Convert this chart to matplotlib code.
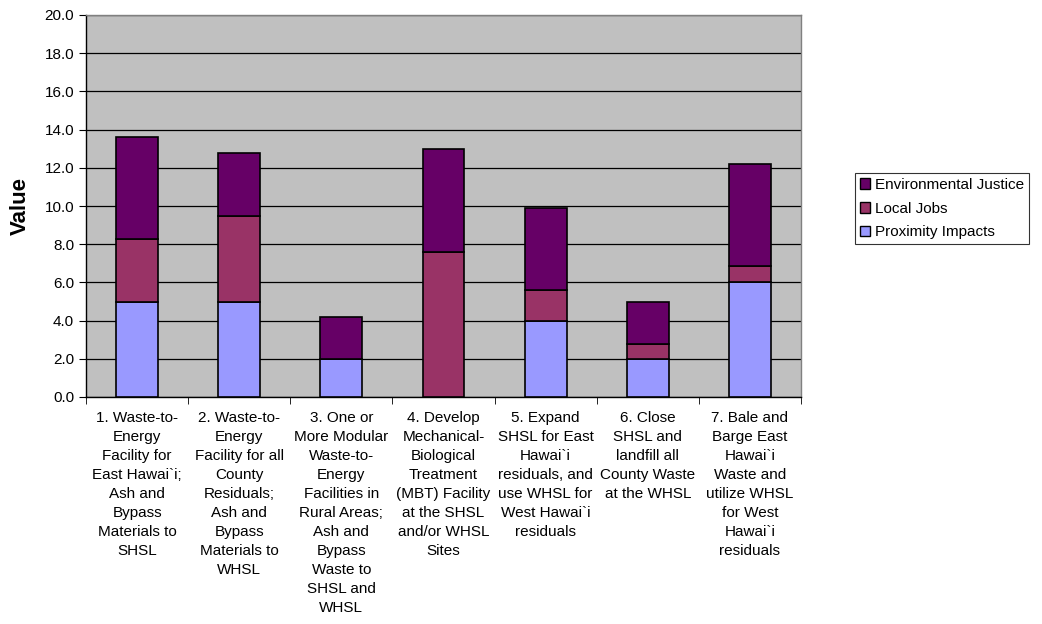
import matplotlib
matplotlib.use("Agg")
import matplotlib.pyplot as plt
import numpy as np
from matplotlib.patches import Patch

categories = [
    "1. Waste-to-\nEnergy\nFacility for\nEast Hawai`i;\nAsh and\nBypass\nMaterials to\nSHSL",
    "2. Waste-to-\nEnergy\nFacility for all\nCounty\nResiduals;\nAsh and\nBypass\nMaterials to\nWHSL",
    "3. One or\nMore Modular\nWaste-to-\nEnergy\nFacilities in\nRural Areas;\nAsh and\nBypass\nWaste to\nSHSL and\nWHSL",
    "4. Develop\nMechanical-\nBiological\nTreatment\n(MBT) Facility\nat the SHSL\nand/or WHSL\nSites",
    "5. Expand\nSHSL for East\nHawai`i\nresiduals, and\nuse WHSL for\nWest Hawai`i\nresiduals",
    "6. Close\nSHSL and\nlandfill all\nCounty Waste\nat the WHSL",
    "7. Bale and\nBarge East\nHawai`i\nWaste and\nutilize WHSL\nfor West\nHawai`i\nresiduals",
]
proximity_impacts = [5.0, 5.0, 2.0, 0.0, 4.0, 2.0, 6.0]
local_jobs = [3.25, 4.5, 0.0, 7.6, 1.6, 0.8, 0.85]
environmental_justice = [5.35, 3.25, 2.2, 5.4, 4.3, 2.15, 5.35]
yticks = [0, 2, 4, 6, 8, 10, 12, 14, 16, 18, 20]

plt.rcParams['font.family'] = ['Liberation Sans', 'DejaVu Sans']

fig = plt.figure(figsize=(10.42, 6.24), dpi=100)
ax = fig.add_axes([86/1042, 1 - 397/624, (801-86)/1042, (397-15)/624])
ax.set_facecolor('#C0C0C0')

x = np.arange(len(categories))
w = 0.41
p = np.array(proximity_impacts)
j = np.array(local_jobs)
e = np.array(environmental_justice)
c_p, c_j, c_e = '#9999FF', '#993366', '#660066'
ax.bar(x, p, w, color=c_p, edgecolor='black', linewidth=1.2, zorder=3)
ax.bar(x, j, w, bottom=p, color=c_j, edgecolor='black', linewidth=1.2, zorder=3)
ax.bar(x, e, w, bottom=p + j, color=c_e, edgecolor='black', linewidth=1.2, zorder=3)

ax.set_xlim(-0.5, len(categories) - 0.5)
ax.set_ylim(0, 20)
ax.set_yticks(yticks)
ax.set_yticklabels([f"{v:.1f}" for v in yticks], fontsize=11)
ax.yaxis.grid(True, color='black', linewidth=0.9, zorder=0)
ax.set_axisbelow(True)

ax.set_xticks(x)
ax.set_xticklabels(categories, fontsize=11, linespacing=1.46, va='top')
ax.tick_params(axis='x', length=0, pad=10)
ax.set_xticks(np.arange(len(categories) + 1) - 0.5, minor=True)
ax.tick_params(axis='x', which='minor', length=5, color='black', direction='out')
ax.tick_params(axis='y', length=5, direction='out', color='black')

for s in ['left', 'bottom']:
    ax.spines[s].set_color('black')
    ax.spines[s].set_linewidth(1.0)
for s in ['top', 'right']:
    ax.spines[s].set_color('#808080')
    ax.spines[s].set_linewidth(1.0)

ax.set_ylabel('Value', fontsize=16, fontweight='bold', labelpad=10)

handles = [Patch(facecolor=c_e, edgecolor='black', label='Environmental Justice'),
           Patch(facecolor=c_j, edgecolor='black', label='Local Jobs'),
           Patch(facecolor=c_p, edgecolor='black', label='Proximity Impacts')]
leg = fig.legend(handles=handles, loc='upper left', bbox_to_anchor=(855/1042, 1 - 173/624),
                 fontsize=11, frameon=True, fancybox=False, handlelength=0.7, handleheight=0.7,
                 handletextpad=0.3, borderpad=0.3, labelspacing=0.65, borderaxespad=0)
leg.get_frame().set_edgecolor('black')
leg.get_frame().set_linewidth(0.8)

fig.savefig('out.png', dpi=100, facecolor='white')
